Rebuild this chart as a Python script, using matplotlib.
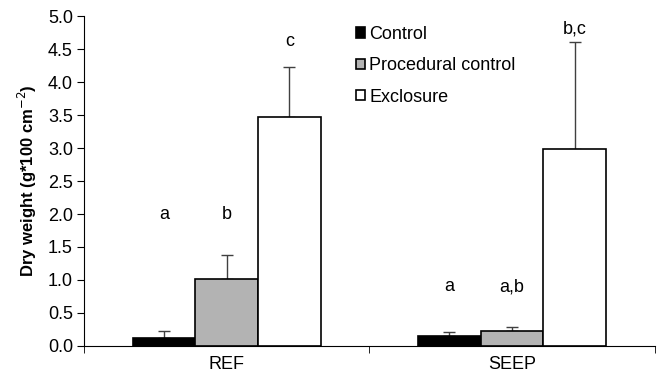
import numpy as np
import matplotlib.pyplot as plt

plt.rcParams['font.family'] = ['Liberation Sans', 'DejaVu Sans']

sites = ["REF", "SEEP"]
treatments = ["Control", "Procedural control", "Exclosure"]
means = {
    "Control": [0.12, 0.15],
    "Procedural control": [1.02, 0.23],
    "Exclosure": [3.47, 2.98],
}
errs = {
    "Control": [0.11, 0.06],
    "Procedural control": [0.36, 0.06],
    "Exclosure": [0.76, 1.63],
}
letters = {
    "Control": ["a", "a"],
    "Procedural control": ["b", "a,b"],
    "Exclosure": ["c", "b,c"],
}
letter_y = {
    "Control": [2.0, 0.9],
    "Procedural control": [2.0, 0.9],
    "Exclosure": [4.62, 4.8],
}
colors = ["black", "#b3b3b3", "white"]

fig = plt.figure(figsize=(6.64, 3.76), dpi=100)
ax = fig.add_axes([0.1265, 0.080, 0.8595, 0.877])

x = np.arange(len(sites))
w = 0.22
for i, t in enumerate(treatments):
    pos = x + (i - 1) * w
    ax.bar(pos, means[t], width=w, color=colors[i], edgecolor="black",
           linewidth=1.2, label=t, zorder=2)
    ax.errorbar(pos, means[t], yerr=[np.zeros(len(sites)), errs[t]],
                fmt="none", ecolor="#404040", elinewidth=1, capsize=4, capthick=1, zorder=1)
    for p, lab, ly in zip(pos, letters[t], letter_y[t]):
        ax.text(p, ly, lab, ha="center", va="center", fontsize=13)

ax.set_xlim(-0.5, 1.5)
ax.set_ylim(0, 5)
ax.set_yticks(np.arange(0, 5.01, 0.5))
ax.set_yticklabels([f"{v:.1f}" for v in np.arange(0, 5.01, 0.5)], fontsize=13)
ax.set_xticks(x)
ax.set_xticklabels(sites, fontsize=13)
ax.set_xticks([-0.5, 0.5, 1.5], minor=True)
ax.tick_params(axis="x", which="major", length=0, pad=7)
ax.tick_params(axis="x", which="minor", length=5, direction="out")
ax.tick_params(axis="y", length=5, direction="out", pad=3)
ax.set_ylabel("Dry weight (g*100 cm$^{-2}$)", fontsize=12, fontweight="bold", labelpad=6)
for s in ["top", "right"]:
    ax.spines[s].set_visible(False)

ax.legend(loc="upper left", bbox_to_anchor=(0.448, 1.02), frameon=False,
          fontsize=13, handlelength=0.5, handleheight=0.5, handletextpad=0.25,
          labelspacing=0.8)

fig.savefig("out.png")
